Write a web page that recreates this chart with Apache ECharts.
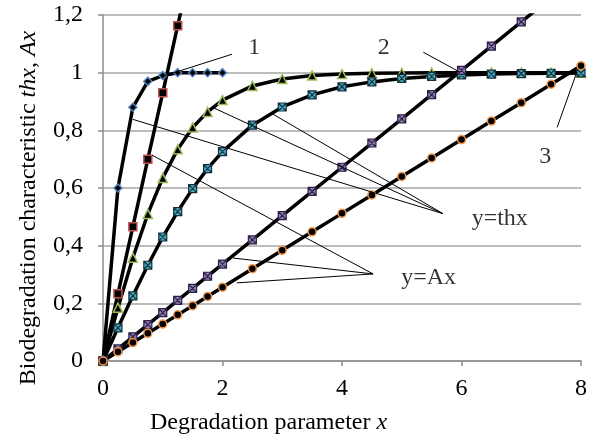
<!DOCTYPE html>
<html><head><meta charset="utf-8">
<script src="https://cdn.jsdelivr.net/npm/echarts@6/dist/echarts.min.js"></script>
<style>html,body{margin:0;padding:0;background:#fff}#c{width:593px;height:440px}</style>
</head><body><div id="c"></div>
<script>
// ---- data ----
const xFine = [0, 0.25, 0.5, 0.75, 1, 1.25, 1.5, 1.75, 2];
const xAll = [0, 0.25, 0.5, 0.75, 1, 1.25, 1.5, 1.75, 2, 2.5, 3, 3.5, 4, 4.5, 5, 5.5, 6, 6.5, 7, 7.5, 8];
const xRed = [0, 0.25, 0.5, 0.75, 1, 1.25, 1.5];
const blueTh = [0, 0.60, 0.88, 0.97, 0.99, 1, 1, 1, 1];
const redLine = [0, 0.233, 0.466, 0.70, 0.93, 1.163, 1.395];
const greenTh = [0, 0.185, 0.358, 0.510, 0.635, 0.734, 0.810, 0.864, 0.905, 0.954, 0.978, 0.990, 0.995, 0.998, 0.999, 1, 1, 1, 1, 1, 1];
const cyanTh = [0, 0.115, 0.226, 0.332, 0.430, 0.518, 0.598, 0.667, 0.726, 0.818, 0.881, 0.923, 0.951, 0.968, 0.980, 0.987, 0.992, 0.995, 0.997, 0.998, 0.999];
const purpleLine = [0, 0.042, 0.084, 0.126, 0.168, 0.210, 0.252, 0.294, 0.336, 0.420, 0.504, 0.588, 0.672, 0.756, 0.840, 0.924, 1.008, 1.092, 1.176, 1.260, 1.344];
const orangeLine = [0, 0.032, 0.064, 0.096, 0.128, 0.160, 0.192, 0.224, 0.256, 0.320, 0.384, 0.448, 0.512, 0.576, 0.640, 0.704, 0.768, 0.832, 0.896, 0.960, 1.024];
const yTicks = ['0', '0,2', '0,4', '0,6', '0,8', '1', '1,2'];
// annotation texts and leader lines (data coordinates)
const noteTexts = [
  {text: '1', at: [2.53, 1.085]},
  {text: '2', at: [4.70, 1.088]},
  {text: '3', at: [7.40, 0.707]},
  {text: 'y=thx', at: [6.64, 0.494]},
  {text: 'y=Ax', at: [5.45, 0.288]}
];
const leaders = [
  [[2.16, 1.064], [1.04, 0.99]],
  [[5.36, 1.071], [5.97, 1.002]],
  [[7.60, 0.81], [7.93, 1.002]],
  [[0.50, 0.838], [5.69, 0.511]],
  [[1.84, 0.879], [5.69, 0.511]],
  [[2.83, 0.858], [5.69, 0.511]],
  [[0.82, 0.714], [4.52, 0.302]],
  [[2.18, 0.357], [4.52, 0.302]],
  [[2.24, 0.271], [4.52, 0.302]]
];

const zip = (xs, ys) => xs.map((x, i) => [x, ys[i]]);
const FONT = 'Liberation Serif';
const FS = 24;
const boxX = 'path://M0,0 L10,0 L10,10 L0,10 Z M0,0 L10,10 M10,0 L0,10';

function mk(name, xs, ys, symbol, size, fill, border, bw) {
  return {
    name, type: 'line', data: zip(xs, ys), clip: true,
    symbol, symbolSize: size, showSymbol: true,
    lineStyle: {color: '#000', width: 3.5},
    itemStyle: {color: fill, borderColor: border, borderWidth: bw},
    emphasis: {disabled: true}, animation: false, z: 3
  };
}

const chart = echarts.init(document.getElementById('c'), null, {renderer: 'canvas'});
chart.setOption({
  animation: false,
  backgroundColor: '#fff',
  textStyle: {fontFamily: FONT},
  grid: {left: 103, right: 12, top: 15, bottom: 76, containLabel: false},
  xAxis: {
    type: 'value', min: 0, max: 8, interval: 2,
    name: 'Degradation parameter {i|x}', nameLocation: 'middle', nameGap: 50,
    nameTextStyle: {fontFamily: FONT, fontSize: FS, color: '#000', padding: [0, 147, 0, 0],
      rich: {i: {fontFamily: FONT, fontSize: FS, fontStyle: 'italic', color: '#000'}}},
    axisLine: {show: true, lineStyle: {color: '#8c8c8c', width: 1.5}},
    axisTick: {show: true, inside: false, length: 5, lineStyle: {color: '#8c8c8c', width: 1.5}},
    axisLabel: {fontFamily: FONT, fontSize: FS, color: '#000', margin: 16},
    splitLine: {show: false}
  },
  yAxis: {
    type: 'value', min: 0, max: 1.2, interval: 0.2,
    name: 'Biodegradation characteristic {i|thx}, {i|Ax}', nameLocation: 'middle', nameGap: 62,
    nameTextStyle: {fontFamily: FONT, fontSize: FS, color: '#000', padding: [0, 40, 0, 0],
      rich: {i: {fontFamily: FONT, fontSize: FS, fontStyle: 'italic', color: '#000'}}},
    axisLine: {show: true, lineStyle: {color: '#8c8c8c', width: 1.5}},
    axisTick: {show: true, inside: false, length: 5, lineStyle: {color: '#8c8c8c', width: 1.5}},
    axisLabel: {fontFamily: FONT, fontSize: FS, color: '#000', margin: 20,
      formatter: (v) => yTicks[Math.round(v / 0.2)]},
    splitLine: {show: true, lineStyle: {color: '#a6a6a6', width: 1.5}}
  },
  series: [
    {
      name: 'notes', type: 'line', data: [], silent: true, z: 2,
      markLine: {
        silent: true, symbol: ['none', 'none'], animation: false,
        label: {show: false},
        lineStyle: {color: '#000', width: 1, type: 'solid'},
        emphasis: {disabled: true},
        data: leaders.map(l => [{coord: l[0]}, {coord: l[1]}])
      }
    },
    mk('blue', xFine, blueTh, 'diamond', 8, '#000', '#4f81bd', 1.5),
    mk('red', xRed, redLine, 'rect', 8, '#000', '#c0504d', 1.5),
    mk('green', xAll, greenTh, 'triangle', 9, '#000', '#9bbb59', 1.5),
    mk('cyan', xAll, cyanTh, boxX, 8, '#4bacc6', '#13303a', 1.2),
    mk('purple', xAll, purpleLine, boxX, 8, '#8e7ead', '#2e1f47', 1.2),
    mk('orange', xAll, orangeLine, 'circle', 8, '#000', '#f79646', 1.5),
    {
      name: 'labels', type: 'scatter', symbolSize: 0, silent: true, z: 5,
      data: noteTexts.map(n => ({value: n.at, name: n.text})),
      label: {show: true, position: 'inside', formatter: (p) => p.name,
        fontFamily: FONT, fontSize: FS, color: '#000'}
    }
  ]
});
</script>
</body></html>
